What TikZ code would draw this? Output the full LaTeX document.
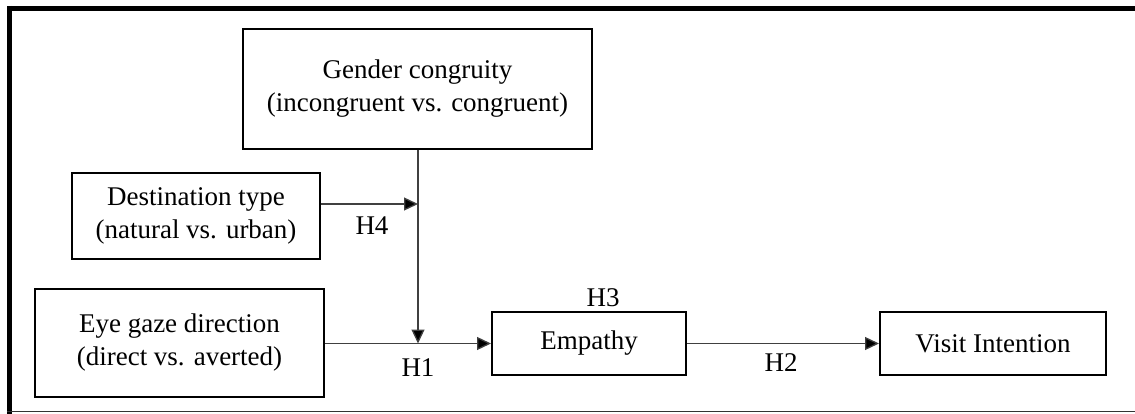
\documentclass[tikz,border=0pt]{standalone}
\usepackage{fontspec}
\setmainfont{Liberation Serif}
\usetikzlibrary{arrows.meta}
\begin{document}
\begin{tikzpicture}[x=1pt,y=-1pt,
  box/.style={draw=black,line width=2pt,align=center,inner sep=0pt,
    font=\fontsize{27}{33}\selectfont},
  conn/.style={draw=black!75,line width=1.3pt},
  arr/.style={conn,-{Triangle[length=14pt,width=13pt,fill=black]}},
  lab/.style={font=\fontsize{27}{33}\selectfont,inner sep=0pt}]
\useasboundingbox (0,0) rectangle (1135,414);
% frame
\draw[line width=5pt] (7,8.5) -- (1135,8.5);
\draw[line width=5pt] (9.5,6) -- (9.5,414);
\draw[line width=1.5pt,black!80] (7,411.5) -- (1135,411.5);
% nodes
\node[box,minimum width=349pt,minimum height=120pt] (gender) at (417.5,89)
  {Gender congruity\\(incongruent vs. congruent)};
\node[box,minimum width=248pt,minimum height=86pt] (dest) at (196,216)
  {Destination type\\(natural vs. urban)};
\node[box,minimum width=289pt,minimum height=108pt] (eye) at (179.5,343)
  {Eye gaze direction\\(direct vs. averted)};
\node[box,minimum width=194pt,minimum height=63pt] (emp) at (589,343.5)
  {Empathy};
\node[box,minimum width=226pt,minimum height=63pt] (visit) at (993,343.5)
  {Visit Intention};
% junctions
\coordinate (j1) at (418,343.5);
\coordinate (j2) at (418,204);
% connectors
\draw[arr] (gender.south -| j1) -- (j1);
\draw[arr] (dest.east |- j2) -- (j2);
\draw[arr] (eye.east |- emp.west) -- (emp.west);
\draw[arr] (emp.east) -- (visit.west);
% labels
\node[lab] (h4) at (372,226) {H4};
\node[lab] (h1) at (418,368) {H1};
\node[lab] (h3) at (603,298) {H3};
\node[lab] (h2) at (781,363) {H2};
\end{tikzpicture}
\end{document}
